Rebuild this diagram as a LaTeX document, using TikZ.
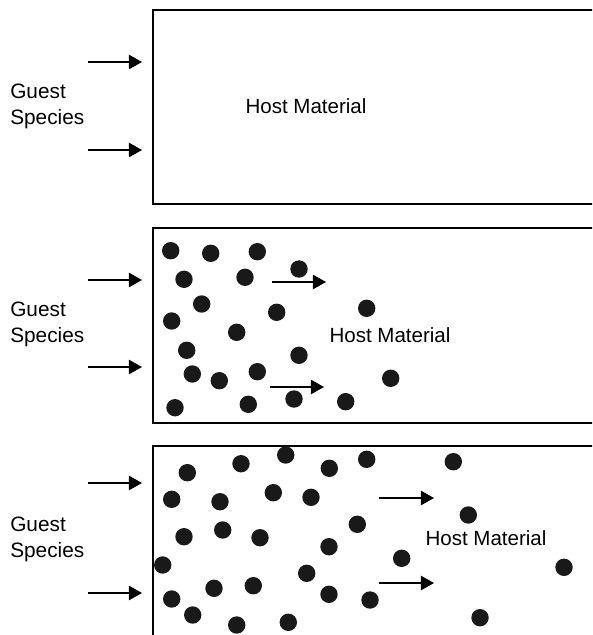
\documentclass[tikz,border=0pt]{standalone}
\usepackage{fontspec}
\setmainfont{Liberation Sans}
\usepackage{tikz}
\usetikzlibrary{arrows.meta,positioning}

\begin{document}
\begin{tikzpicture}[
  x=0.025cm, y=-0.025cm,
  hostbox/.style={rectangle, draw, line width=1.1pt, anchor=north west, inner sep=0pt, outer sep=0pt, minimum width=11.675cm},
  lbl/.style={align=left, anchor=west, inner sep=0pt, font=\fontsize{14.8}{18.4}\selectfont},
  hosttxt/.style={inner sep=0pt, font=\fontsize{14.6}{17}\selectfont},
  arr/.style={-{Triangle[length=0.33cm, width=0.36cm]}, line width=1.3pt},
  dot/.style={fill=black!90}
]
\useasboundingbox (0,0) rectangle (592,635);
\clip (0,0) rectangle (592,635);

% three panels
\node[hostbox, minimum height=4.85cm] (host1) at (153,10) {};
\node[hostbox, minimum height=4.875cm] (host2) at (153,228) {};
\node[hostbox, minimum height=5.35cm] (host3) at (153,446) {};

\node[hosttxt] (mat1) at (306,106) {Host Material};
\node[hosttxt] (mat2) at (390,335) {Host Material};
\node[hosttxt] (mat3) at (486,538) {Host Material};

\node[lbl] (guest1) at (10,106) {Guest\\Species};
\node[lbl] (guest2) at (10,324) {Guest\\Species};
\node[lbl] (guest3) at (10,539) {Guest\\Species};

% incoming guest species
\foreach \n/\ya/\yb in {1/62/150, 2/280/367, 3/483/593} {
  \coordinate (in\n a) at (88,\ya);
  \coordinate (in\n b) at (88,\yb);
  \draw[arr, shorten >=0.275cm] (in\n a) -- (in\n a -| host\n.west);
  \draw[arr, shorten >=0.275cm] (in\n b) -- (in\n b -| host\n.west);
}

% diffusion front
\foreach \n/\xa/\xb/\y in {2a/272/326/282, 2b/270/324/387, 3a/379/434/498, 3b/379/434/583} {
  \coordinate (fr\n s) at (\xa,\y);
  \coordinate (fr\n e) at (\xb,\y);
  \draw[arr] (fr\n s) -- (fr\n e);
}

% guest particles, panel 2
\foreach \x/\y in {170.7/250.7, 210.7/253.3, 257.3/251.7, 299/269, 184/279.3, 245/277.3,
  201.7/304, 276.7/312.3, 366.7/308.3, 171.7/321, 236.7/332.3, 186.7/350.3, 299/355.3,
  192.3/374, 219.3/380.7, 257.3/371.7, 390.7/378.3, 294/399, 345.7/401.7, 175/407.7, 248.3/404.3}
  \fill[dot] (\x,\y) circle[radius=0.2175cm];

% guest particles, panel 3
\foreach \x/\y in {187.3/472.7, 241/463.7, 285.7/455, 329.3/468.3, 366.7/459.3, 453.3/461.7,
  171.7/499.3, 220/501.7, 273.3/492.7, 311/497.3, 468.3/515, 184/536.7, 222.7/530, 260/537.7,
  357.3/524.3, 329/546.7, 162.7/565, 401.7/558.3, 564/567.3, 306.7/573.3, 214/588.3,
  253.3/585.7, 171.7/599, 329/594.3, 370/600, 192.7/615, 236.7/625, 288.3/622.3, 480/617.7}
  \fill[dot] (\x,\y) circle[radius=0.2175cm];
\end{tikzpicture}
\end{document}
